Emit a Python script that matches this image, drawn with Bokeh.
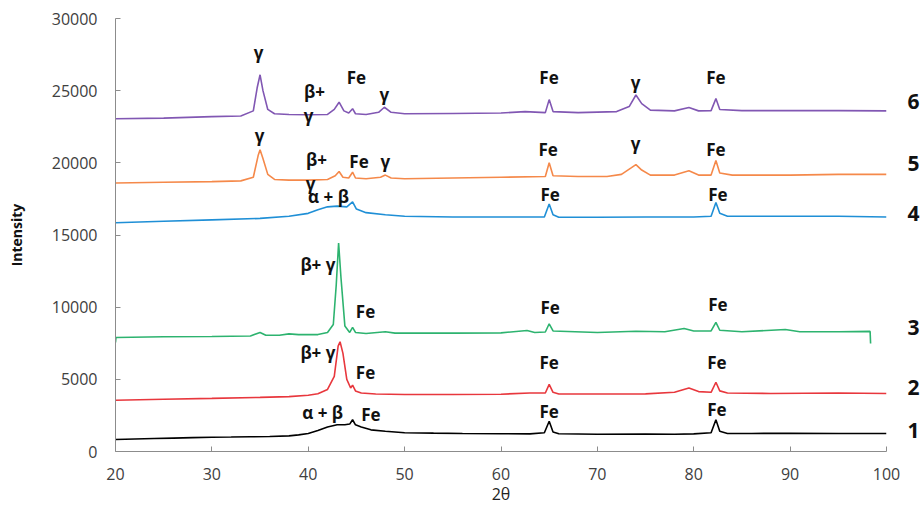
from bokeh.plotting import figure
from bokeh.models import Range1d, FixedTicker, LinearAxis
from bokeh.core.properties import value
from bokeh.embed import file_html
from bokeh.resources import INLINE

# ---- data (2θ, intensity) ----
x1 = [20, 22, 24, 26, 28, 30, 32, 34, 36, 38, 39, 40, 41, 42, 43, 43.8, 44.3, 44.6, 44.9, 45.5, 46.5, 48, 50, 53, 56, 60, 63, 64.5, 65, 65.4, 66, 70, 75, 78, 80, 81.8, 82.3, 82.7, 83.5, 86, 90, 95, 100]
y1 = [830, 870, 900, 930, 960, 990, 1000, 1020, 1040, 1080, 1150, 1250, 1450, 1700, 1850, 1850, 1900, 2200, 1850, 1700, 1500, 1400, 1300, 1270, 1250, 1230, 1220, 1300, 2100, 1350, 1230, 1200, 1210, 1200, 1220, 1300, 2200, 1400, 1250, 1250, 1260, 1250, 1250]

x2 = [20, 25, 30, 35, 38, 40, 41, 42, 42.7, 43.1, 43.3, 43.6, 44.0, 44.4, 44.6, 44.9, 45.5, 47, 50, 55, 60, 63, 64.6, 65, 65.4, 66, 70, 75, 78, 79.5, 80.5, 81.8, 82.3, 82.7, 83.5, 88, 95, 100]
y2 = [3550, 3620, 3680, 3750, 3800, 3900, 4000, 4300, 5200, 7300, 7600, 6800, 5000, 4400, 4600, 4200, 4050, 3980, 3950, 3950, 3970, 4050, 4050, 4650, 4100, 3980, 3980, 3990, 4100, 4400, 4150, 4100, 4800, 4200, 4050, 4020, 4050, 4020]

x3 = [20, 20.05, 25, 30, 34, 35, 35.6, 37, 38, 39, 41, 42, 42.6, 42.9, 43.15, 43.4, 43.8, 44.3, 44.6, 44.9, 46, 48, 49, 55, 60, 62.7, 63.5, 64.6, 65, 65.4, 70, 74, 77, 79, 80, 81.8, 82.3, 82.7, 85, 89.5, 91, 95, 98.3, 98.35]
y3 = [7550, 7900, 7950, 7970, 8000, 8250, 8050, 8050, 8150, 8100, 8100, 8250, 8800, 11500, 14450, 12000, 8700, 8250, 8600, 8250, 8180, 8300, 8200, 8200, 8220, 8380, 8250, 8280, 8850, 8350, 8250, 8330, 8300, 8520, 8350, 8350, 8950, 8400, 8300, 8450, 8300, 8300, 8320, 7480]

x4 = [20, 25, 30, 35, 38, 40, 41, 42, 43, 44, 44.6, 45, 46, 48, 50, 55, 60, 64.5, 65, 65.4, 66, 70, 75, 80, 81.8, 82.3, 82.7, 83.5, 88, 95, 100]
y4 = [15850, 15950, 16050, 16150, 16300, 16500, 16750, 16950, 17000, 16950, 17300, 16800, 16550, 16400, 16300, 16250, 16250, 16250, 17150, 16400, 16230, 16230, 16250, 16250, 16300, 17250, 16500, 16300, 16300, 16300, 16250]

x5 = [20, 25, 30, 33, 34.3, 34.8, 35.0, 35.3, 35.8, 36.5, 38, 40, 42, 42.8, 43.2, 43.6, 44.2, 44.6, 44.9, 46, 47.5, 48, 48.6, 50, 55, 60, 64.6, 65, 65.4, 68, 71, 72.5, 73.5, 74, 74.6, 75.5, 78, 79.5, 80.5, 81.8, 82.3, 82.7, 84, 90, 95, 100]
y5 = [18600, 18650, 18700, 18750, 19000, 20500, 20900, 20300, 19200, 18850, 18800, 18800, 18850, 19100, 19400, 19000, 18950, 19350, 18950, 18900, 19000, 19150, 18950, 18900, 18950, 19000, 19050, 20000, 19100, 19050, 19050, 19200, 19650, 19880, 19500, 19150, 19150, 19450, 19150, 19150, 20160, 19300, 19150, 19150, 19200, 19200]

x6 = [20, 25, 30, 33, 34.3, 34.7, 35.0, 35.3, 35.8, 36.5, 38, 40, 42, 42.7, 43.2, 43.7, 44.2, 44.6, 44.9, 46, 47.3, 47.9, 48.6, 50, 55, 60, 62.5, 64.6, 65, 65.4, 68, 72, 73.3, 74, 74.6, 75.5, 78, 79.5, 80.5, 81.8, 82.3, 82.7, 85, 90, 95, 100]
y6 = [23050, 23100, 23200, 23250, 23600, 25200, 26100, 25000, 23700, 23400, 23350, 23330, 23350, 23700, 24200, 23600, 23450, 23750, 23400, 23350, 23500, 23850, 23500, 23400, 23420, 23450, 23550, 23480, 24380, 23550, 23480, 23550, 23900, 24700, 24100, 23650, 23600, 23830, 23600, 23620, 24450, 23700, 23620, 23620, 23620, 23600]

series_colors = ["#000000", "#e8373d", "#2db36f", "#1f8fd6", "#f5894a", "#8157b3"]

# peak annotations
ann_text = ["γ", "β+", "γ", "Fe", "γ", "Fe", "γ", "Fe",
            "γ", "β+", "γ", "Fe", "γ", "Fe", "γ", "Fe",
            "α + β", "Fe", "Fe",
            "β+ γ", "Fe", "Fe", "Fe",
            "β+ γ", "Fe", "Fe", "Fe",
            "α + β", "Fe", "Fe", "Fe"]
ann_x = [34.84, 40.65, 40.03, 45.0, 47.9, 64.98, 73.96, 82.3,
         34.94, 40.86, 40.23, 45.27, 48.0, 64.9, 73.96, 82.3,
         42.1, 65.1, 82.5,
         41.0, 45.94, 65.1, 82.5,
         41.0, 45.94, 65.0, 82.4,
         41.5, 46.5, 65.0, 82.4]
ann_y = [27640, 24940, 23280, 25880, 24730, 25880, 25560, 25880,
         21890, 20230, 18600, 20060, 20090, 20920, 21370, 20920,
         17670, 17800, 17800,
         12990, 9700, 10010, 10180,
         6890, 5440, 6200, 6200,
         2670, 2560, 2770, 2910]

# curve numbers at the right, placed at these intensities
curve_names = ["1", "2", "3", "4", "5", "6"]
name_y = [1455, 4430, 8590, 16490, 19950, 24250]

x_ticks = [20, 30, 40, 50, 60, 70, 80, 90, 100]
y_ticks = [0, 5000, 10000, 15000, 20000, 25000, 30000]
x_title = "2θ"
y_title = "Intensity"

FONT = "Open Sans"
AXIS_COLOR = "#8c8c8c"

p = figure(output_backend="svg", toolbar_location=None,
           frame_width=771, frame_height=433,
           min_border_left=115, min_border_right=0,
           min_border_top=18, min_border_bottom=60,
           x_range=Range1d(20, 100), y_range=Range1d(0, 30000))

p.outline_line_color = None
p.grid.visible = False
p.background_fill_color = "white"
p.border_fill_color = "white"

for xs, ys, c in zip([x1, x2, x3, x4, x5, x6], [y1, y2, y3, y4, y5, y6], series_colors):
    p.line(xs, ys, line_color=c, line_width=1.6)

p.text(x=ann_x, y=ann_y, text=ann_text, text_align="center", text_baseline="middle",
       text_font=value(FONT), text_font_style="bold", text_font_size="17px", text_color="#111111")

xa = p.xaxis[0]
xa.ticker = FixedTicker(ticks=x_ticks)
xa.minor_tick_line_color = None
xa.major_tick_in = 5
xa.major_tick_out = 0
xa.axis_line_color = AXIS_COLOR
xa.major_tick_line_color = AXIS_COLOR
xa.major_label_text_font = FONT
xa.major_label_text_font_size = "16px"
xa.major_label_text_color = "#404040"
xa.major_label_standoff = 16
xa.axis_label = x_title
xa.axis_label_text_font = FONT
xa.axis_label_text_font_style = "normal"
xa.axis_label_text_font_size = "16px"
xa.axis_label_text_color = "#222222"
xa.axis_label_standoff = 0

ya = p.yaxis[0]
ya.ticker = FixedTicker(ticks=y_ticks)
ya.minor_tick_line_color = None
ya.major_tick_in = 5
ya.major_tick_out = 0
ya.axis_line_color = AXIS_COLOR
ya.major_tick_line_color = AXIS_COLOR
ya.major_label_text_font = FONT
ya.major_label_text_font_size = "16px"
ya.major_label_text_color = "#404040"
ya.major_label_standoff = 18
ya.axis_label = y_title
ya.axis_label_text_font = FONT
ya.axis_label_text_font_style = "bold"
ya.axis_label_text_font_size = "14px"
ya.axis_label_text_color = "#111111"
ya.axis_label_standoff = 23

names_axis = LinearAxis(ticker=FixedTicker(ticks=name_y),
                        major_label_overrides={v: t for v, t in zip(name_y, curve_names)},
                        axis_line_color=None, major_tick_line_color=None,
                        minor_tick_line_color=None, major_tick_in=0, major_tick_out=0,
                        major_label_standoff=21,
                        major_label_text_font=FONT, major_label_text_font_style="bold",
                        major_label_text_font_size="21px", major_label_text_color="#111111")
p.add_layout(names_axis, "right")

open("out.html", "w").write(file_html(p, INLINE))
